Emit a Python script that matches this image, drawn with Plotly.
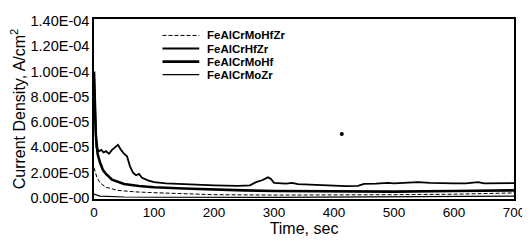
import plotly.graph_objects as go

# ---- data ----
names = ["FeAlCrMoHfZr", "FeAlCrHfZr", "FeAlCrMoHf", "FeAlCrMoZr"]

t_hfzr = [0, 1, 2, 4, 8, 12, 16, 20, 25, 30, 35, 40, 45, 50, 55, 60, 65, 70, 75, 80, 90, 100,
          120, 140, 160, 180, 200, 220, 240, 260, 270, 280, 290, 295, 300, 320, 330, 340, 360,
          380, 400, 420, 440, 450, 470, 490, 500, 520, 540, 560, 580, 600, 620, 640, 650, 670, 700]
v_hfzr = [98e-6, 80e-6, 55e-6, 40e-6, 37e-6, 38e-6, 36e-6, 37e-6, 35e-6, 38e-6, 40e-6, 42e-6,
          38e-6, 35e-6, 33e-6, 25e-6, 20e-6, 18e-6, 19e-6, 16e-6, 14e-6, 12.5e-6,
          11.5e-6, 11e-6, 10.5e-6, 10.5e-6, 10e-6, 9.8e-6, 9.5e-6, 10e-6, 12.5e-6, 14e-6, 16.3e-6,
          15e-6, 12e-6, 11.4e-6, 12e-6, 11e-6, 10.5e-6, 10e-6, 9.5e-6, 9.3e-6, 9.6e-6, 11.2e-6,
          11.4e-6, 12e-6, 11.6e-6, 12e-6, 12.5e-6, 12e-6, 11.6e-6, 11.6e-6, 11.6e-6, 12.6e-6,
          11.6e-6, 11.6e-6, 11.8e-6]

t_mohf = [0, 1, 3, 6, 10, 15, 20, 30, 50, 75, 100, 150, 200, 250, 300, 400, 500, 600, 700]
v_mohf = [100e-6, 80e-6, 50e-6, 35e-6, 28e-6, 22e-6, 19e-6, 14.5e-6, 11e-6, 9.5e-6, 8.5e-6,
          7.5e-6, 6.5e-6, 6e-6, 5.5e-6, 5e-6, 5e-6, 5.5e-6, 6e-6]

t_mohfzr = [0, 5, 10, 20, 40, 70, 100, 150, 200, 300, 400, 500, 600, 700]
v_mohfzr = [24e-6, 16e-6, 12e-6, 8.5e-6, 6e-6, 4.8e-6, 4.2e-6, 3.2e-6, 2.6e-6, 2.3e-6, 2.3e-6,
            2.6e-6, 3e-6, 4e-6]

t_mozr = [0, 10, 50, 100, 300, 500, 700]
v_mozr = [3e-6, 1.5e-6, 0.8e-6, 0.6e-6, 0.5e-6, 0.8e-6, 1.5e-6]

t_dot = [413]
v_dot = [50.5e-6]

y_ticks = [0, 2e-5, 4e-5, 6e-5, 8e-5, 1e-4, 1.2e-4, 1.4e-4]
y_tick_text = ["0.00E-00", "2.00E-05", "4.00E-05", "6.00E-05", "8.00E-05",
               "1.00E-04", "1.20E-04", "1.40E-04"]
x_ticks = [0, 100, 200, 300, 400, 500, 600, 700]

# ---- figure ----
styles = {
    "FeAlCrMoHfZr": dict(color="black", width=1, dash="4px,2px"),
    "FeAlCrHfZr": dict(color="black", width=1.8),
    "FeAlCrMoHf": dict(color="black", width=2.6),
    "FeAlCrMoZr": dict(color="black", width=1.2),
}
series = {
    "FeAlCrMoHfZr": (t_mohfzr, v_mohfzr),
    "FeAlCrHfZr": (t_hfzr, v_hfzr),
    "FeAlCrMoHf": (t_mohf, v_mohf),
    "FeAlCrMoZr": (t_mozr, v_mozr),
}

fig = go.Figure()
for n in names:
    t, v = series[n]
    fig.add_trace(go.Scatter(x=t, y=v, mode="lines", name=n, line=styles[n],
                             showlegend=False))
fig.add_trace(go.Scatter(x=t_dot, y=v_dot, mode="markers", showlegend=False,
                         marker=dict(color="black", size=4)))

# the page body has an 8px margin, so the figure is 8px smaller and offset
W, H = 522, 236
ML, MR, MT, MB = 86, 13, 5, 45
plot_w = W - ML - MR
plot_h = H - MT - MB

# manual compact legend (positions in screen pixels)
leg_y0 = 30
leg_dy = 13.5
for i, n in enumerate(names):
    ypx = leg_y0 + i * leg_dy - 8 - MT
    yp = 1 - ypx / plot_h
    st = styles[n]
    x0 = (163 - 8 - ML) / plot_w
    x1 = (200 - 8 - ML) / plot_w
    xt = (206 - 8 - ML) / plot_w
    fig.add_shape(type="line", xref="paper", yref="paper", x0=x0, x1=x1, y0=yp, y1=yp,
                  line=dict(color="black", width=st["width"], dash=st.get("dash", "solid")))
    fig.add_annotation(xref="paper", yref="paper", x=xt, y=yp, text=n, showarrow=False,
                       xanchor="left", yanchor="middle",
                       font=dict(family="Liberation Sans, Arial", size=11.5, color="black",
                                 weight="bold"))

fig.update_layout(
    width=W, height=H,
    margin=dict(l=ML, r=MR, t=MT, b=MB),
    paper_bgcolor="white", plot_bgcolor="white",
    font=dict(family="Liberation Sans, Arial", color="black"),
    showlegend=False,
)
fig.update_xaxes(range=[0, 700], tickvals=x_ticks, showgrid=False, zeroline=False,
                 showline=True, linecolor="black", linewidth=1.5, mirror=True,
                 ticks="", tickfont=dict(size=13.5),
                 title=dict(text="Time, sec", font=dict(size=16), standoff=2))
fig.update_yaxes(range=[-0.8e-6, 1.415e-4], tickvals=y_ticks, ticktext=y_tick_text,
                 showgrid=False, zeroline=False,
                 showline=True, linecolor="black", linewidth=1.5, mirror=True,
                 ticks="", tickfont=dict(size=14.5),
                 title=dict(text="Current Density, A/cm<sup>2</sup>", font=dict(size=16),
                            standoff=1))

fig.write_html("out.html")
